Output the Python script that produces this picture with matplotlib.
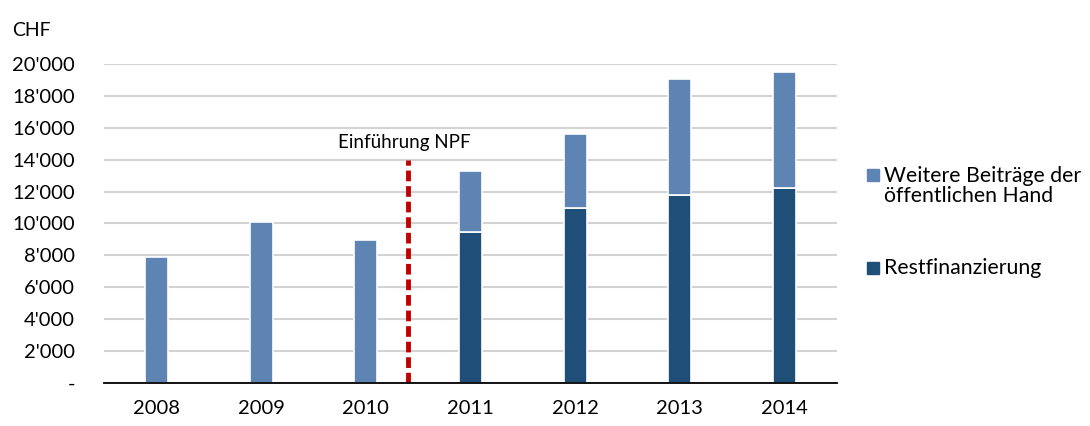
import matplotlib
matplotlib.use("Agg")
import matplotlib.pyplot as plt
from matplotlib.ticker import FuncFormatter
from matplotlib.patches import Rectangle

plt.rcParams['font.family'] = ['Lato', 'DejaVu Sans']

years = ['2008', '2009', '2010', '2011', '2012', '2013', '2014']
restfinanzierung = [0, 0, 0, 9450, 11000, 11800, 12250]
weitere_beitraege = [7900, 10100, 8950, 3850, 4600, 7250, 7250]
npf_position = 2.4
npf_top = 14000

col_light = '#5E84B4'
col_dark = '#1F4E79'

fig = plt.figure(figsize=(10.9, 4.26), dpi=100)
ax = fig.add_axes([104 / 1090, 43 / 426, 733 / 1090, 319 / 426])

x = range(len(years))
ax.bar(x, restfinanzierung, width=0.22, color=col_dark, edgecolor='white', linewidth=1.2, zorder=3)
ax.bar(x, weitere_beitraege, width=0.22, bottom=restfinanzierung, color=col_light,
       edgecolor='white', linewidth=1.2, zorder=3)

ax.plot([npf_position, npf_position], [0, npf_top], color='#C00000', lw=3.5,
        linestyle=(0, (2.2, 1.0)), zorder=4)
ax.text(npf_position - 0.03, npf_top + 520, 'Einführung NPF', ha='center', va='bottom', fontsize=13.5)

ax.set_xlim(-0.5, len(years) - 0.5)
ax.set_ylim(0, 20000)
ax.set_yticks(range(0, 20001, 2000))
ax.yaxis.set_major_formatter(FuncFormatter(
    lambda v, p: '-' if v == 0 else "{:,.0f}".format(v).replace(',', "'")))
ax.set_xticks(list(x))
ax.set_xticklabels(years)
ax.tick_params(axis='both', length=0, labelsize=14.5)
ax.tick_params(axis='x', pad=12)
ax.tick_params(axis='y', pad=21)
ax.grid(axis='y', color='#D3D3D3', linewidth=1.5, zorder=0)
for s in ['top', 'right', 'left']:
    ax.spines[s].set_visible(False)
ax.spines['bottom'].set_color('black')
ax.spines['bottom'].set_linewidth(1.3)
ax.spines['bottom'].set_zorder(5)

fig.text(12 / 1090, 1 - 30 / 426, 'CHF', fontsize=14, va='center')

# legend, drawn by hand to match the spacing
legend_items = [('Weitere Beiträge der\nöffentlichen Hand', col_light, 186),
                ('Restfinanzierung', col_dark, 268)]
for label, col, ypx in legend_items:
    first_line_y = ypx - 11 if '\n' in label else ypx
    fig.add_artist(Rectangle((867 / 1090, 1 - (first_line_y + 6) / 426), 12 / 1090, 12 / 426,
                             transform=fig.transFigure, color=col))
    t = fig.text(884 / 1090, 1 - ypx / 426, label, fontsize=15.3, va='center', ha='left')
    t.set_linespacing(1.05)

fig.savefig('out.png', dpi=100)
